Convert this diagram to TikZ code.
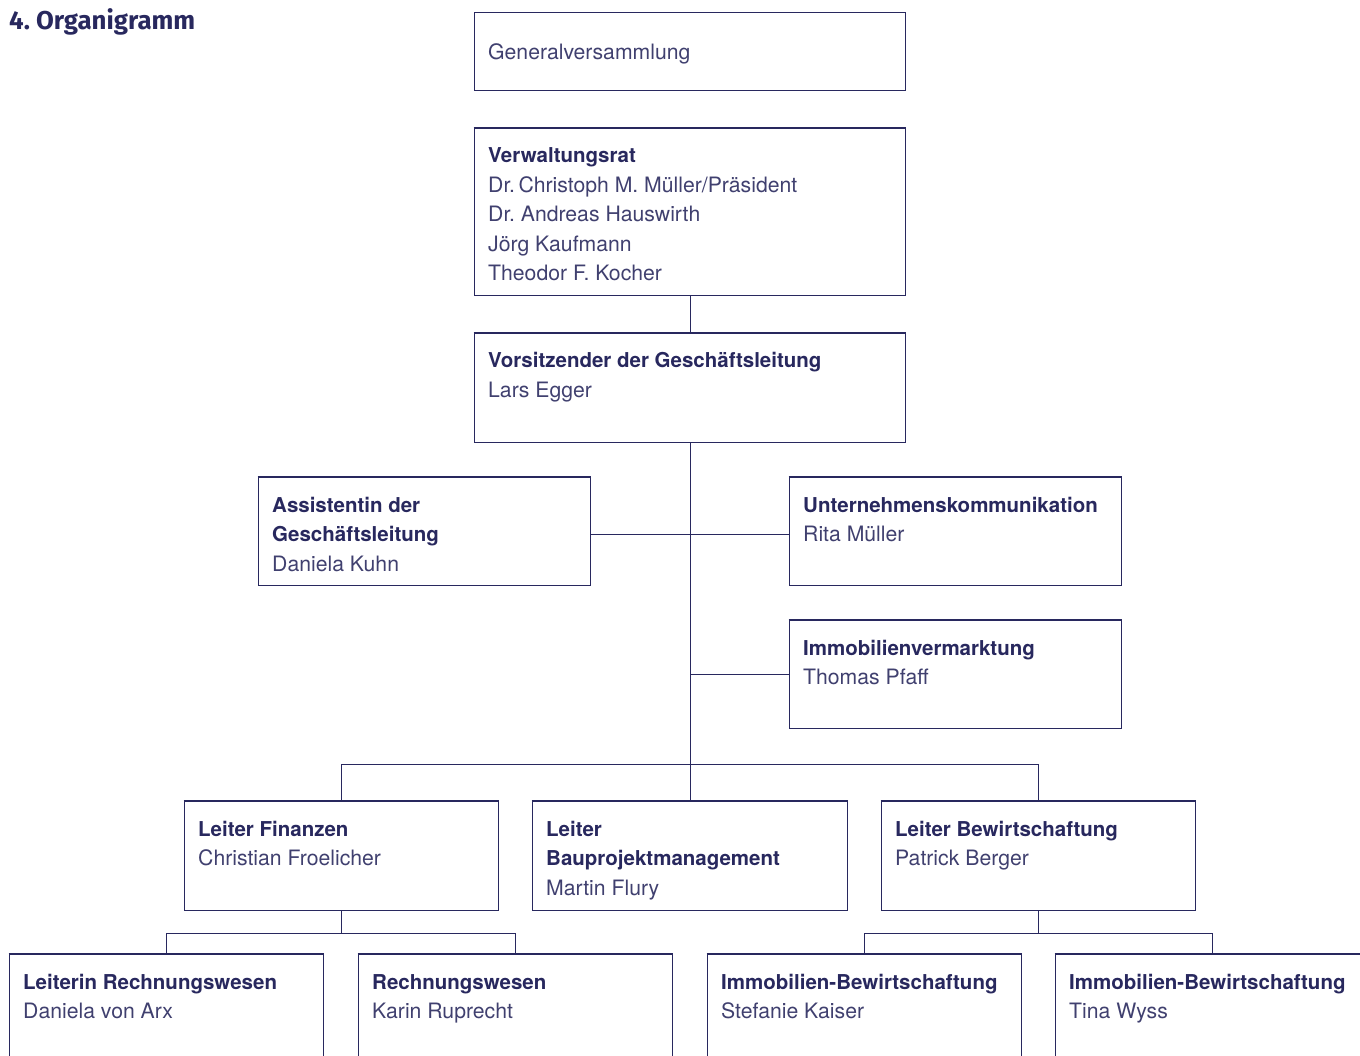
\documentclass[tikz,border=0pt]{standalone}
\usepackage{fontspec}
\setmainfont{TeX Gyre Heros}
\newfontfamily\titlefont{Fira Sans}
\usetikzlibrary{calc}
\definecolor{navy}{HTML}{28285E}
\definecolor{navyl}{HTML}{40406F}
\frenchspacing
\tikzset{
  box/.style={draw=navy, line width=0.9pt, anchor=north west, inner sep=0pt, rectangle},
  topline/.style={draw=navy, line width=2.6pt, shorten <=-0.45pt, shorten >=-0.45pt},
  conn/.style={draw=navy, line width=0.9pt},
  txt/.style={anchor=base west, inner sep=0pt, font=\fontsize{21.2}{29.5}\selectfont, text=navyl},
  titletxt/.style={anchor=base west, inner sep=0pt, font=\titlefont\bfseries\fontsize{25.8}{30}\selectfont, text=navy},
}
\newcommand\hd[1]{{\fontsize{20.5}{29.5}\selectfont\bfseries\color{navy}#1}}
% name, x, y, width, height, lines
\newcommand\orgbox[6]{%
  \node[box, minimum width=#4pt, minimum height=#5pt] (#1) at (#2,#3) {};
  \draw[topline] (#1.north west) -- (#1.north east);
  \node[txt] (#1t) at ($(#1.north west)+(14,35)$) {\vtop{#6}};
}
\begin{document}
\begin{tikzpicture}[x=1pt, y=-1pt]
\useasboundingbox (0,0) rectangle (1360,1056);
\clip (0,0) rectangle (1360,1056);
\node[titletxt] (title) at (9,30) {4. Organigramm};
% Generalversammlung (thin border only)
\node[box, minimum width=431pt, minimum height=78pt] (gv) at (474,12) {};
\node[txt] (gvt) at ($(gv.north west)+(14,47.5)$) {Generalversammlung};
\orgbox{vr}{474}{128}{431}{167}{\hbox{\hd{Verwaltungsrat}}\hbox{Dr.\,Christoph M. Müller/Präsident}\hbox{Dr. Andreas Hauswirth}\hbox{Jörg Kaufmann}\hbox{Theodor F. Kocher}}
\orgbox{vgl}{474}{333}{431}{109}{\hbox{\hd{Vorsitzender der Geschäftsleitung}}\hbox{Lars Egger}}
\orgbox{asst}{258}{477}{332}{108}{\hbox{\hd{Assistentin der}}\hbox{\hd{Geschäftsleitung}}\hbox{Daniela Kuhn}}
\orgbox{uk}{789}{477}{332}{108}{\hbox{\hd{Unternehmenskommunikation}}\hbox{Rita Müller}}
\orgbox{iv}{789}{620}{332}{108}{\hbox{\hd{Immobilienvermarktung}}\hbox{Thomas Pfaff}}
\orgbox{lf}{184}{801}{314}{109}{\hbox{\hd{Leiter Finanzen}}\hbox{Christian Froelicher}}
\orgbox{lb}{532}{801}{315}{109}{\hbox{\hd{Leiter}}\hbox{\hd{Bauprojektmanagement}}\hbox{Martin Flury}}
\orgbox{lbw}{881}{801}{314}{109}{\hbox{\hd{Leiter Bewirtschaftung}}\hbox{Patrick Berger}}
\orgbox{lr}{9}{954}{314}{130}{\hbox{\hd{Leiterin Rechnungswesen}}\hbox{Daniela von Arx}}
\orgbox{rw}{358}{954}{314}{130}{\hbox{\hd{Rechnungswesen}}\hbox{Karin Ruprecht}}
\orgbox{ib}{707}{954}{314}{130}{\hbox{\hd{Immobilien-Bewirtschaftung}}\hbox{Stefanie Kaiser}}
\orgbox{ibb}{1055}{954}{314}{130}{\hbox{\hd{Immobilien-Bewirtschaftung}}\hbox{Tina Wyss}}
% connectors
\draw[conn] (vr.south) -- (vgl.north);
\draw[conn] (vgl.south) -- (lb.north);
\draw[conn] ([yshift=-3pt]asst.east) -- ([yshift=-3pt]uk.west);
\draw[conn] (iv.west) -- (iv.west -| vgl.south);
\draw[conn] (lf.north) -- ++(0,-37) -| (lbw.north);
\draw[conn] (lf.south) -- ++(0,23) coordinate (lfj);
\draw[conn] (lr.north) |- (lfj) -| (rw.north);
\draw[conn] (lbw.south) -- ++(0,23) coordinate (lbwj);
\draw[conn] (ib.north) |- (lbwj) -| (ibb.north);
\end{tikzpicture}
\end{document}
